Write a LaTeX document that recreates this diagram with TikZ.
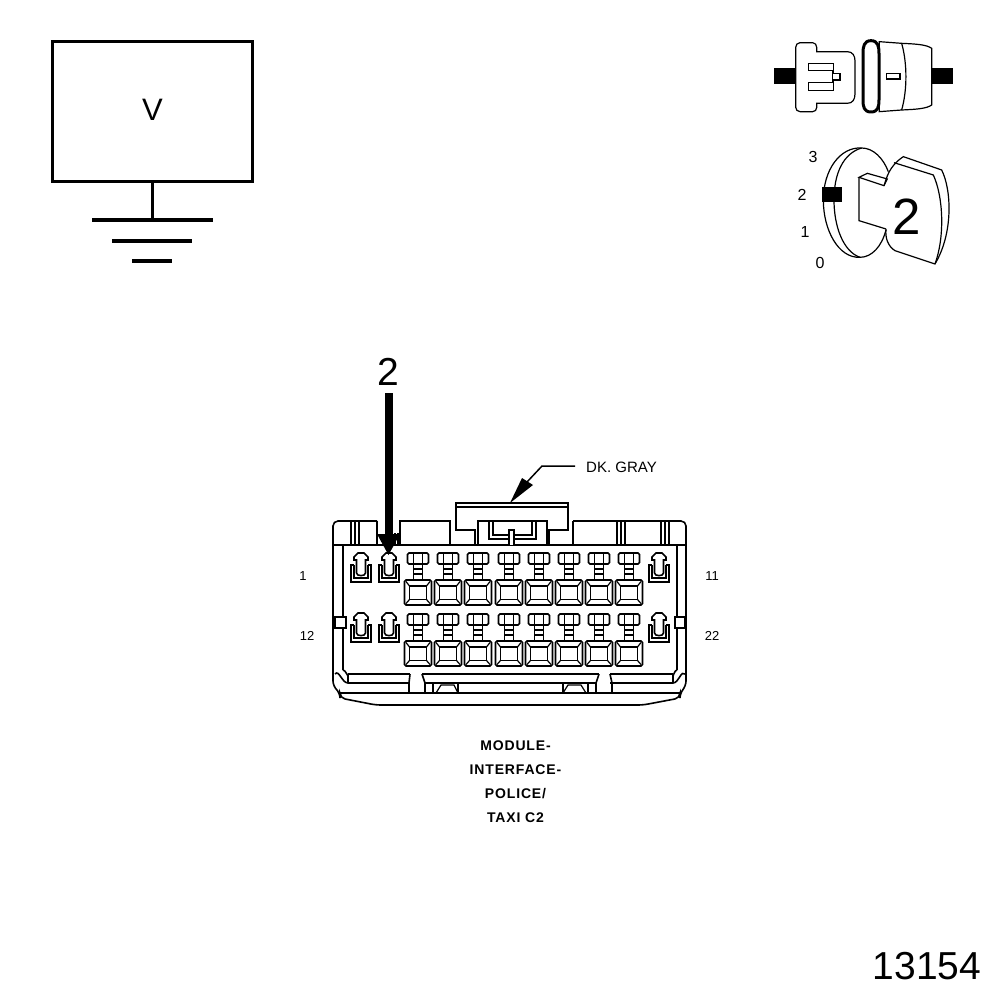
\documentclass[tikz,border=0pt]{standalone}
\usepackage{fontspec}
\setmainfont{Liberation Sans}
\newfontfamily\capfont[LetterSpace=6]{Liberation Sans}
\tikzset{
  conn/.style={draw=black,line width=1.6pt,line join=miter},
  thin line/.style={draw=black,line width=1.2pt},
  lab/.style={inner sep=0pt,text=black},
  smallterm/.pic={
    \draw[conn] (-4.5,20)--(-4.5,7)--(-7,7)--(-7,4)--(-3,0)--(3,0)--(7,4)--(7,7)--(4.5,7)--(4.5,20) to[out=-90,in=-90] (-4.5,20);
    \draw[conn] (-7,12)--(-10,12)--(-10,29)--(10,29)--(10,12)--(7,12);
    \draw[conn] (-7,12)--(-7,25)--(7,25)--(7,12);
  },
  bigterm/.pic={
    \draw[conn,rounded corners=1.5pt] (-4.5,11)--(-10.5,11)--(-10.5,0)--(10.5,0)--(10.5,11)--(4.5,11);
    \draw[conn] (-4.5,0)--(-4.5,27) (4.5,0)--(4.5,27);
    \draw[conn] (-4.5,11)--(4.5,11) (-4.5,16)--(4.5,16) (-4.5,21)--(4.5,21);
    \draw[conn,rounded corners=1.5pt] (-13.5,27) rectangle (13.5,52);
    \draw[conn] (-8.5,33) rectangle (8.5,46.5);
    \draw[thin line] (-12,28.5)--(-8.5,33) (12,28.5)--(8.5,33) (-12,50.5)--(-8.5,46.5) (12,50.5)--(8.5,46.5);
  }
}
\begin{document}
\begin{tikzpicture}[x=1pt,y=-1pt]
\useasboundingbox (0,0) rectangle (1008,1000);
\fill[white] (0,0) rectangle (1008,1000);
% voltmeter box and ground
\node[draw=black,line width=3.5pt,minimum width=200pt,minimum height=140pt,inner sep=0pt,outer sep=0pt,anchor=north west] (vbox) at (52.5,41.5) {};
\node[lab,font=\fontsize{31}{31}\selectfont] (vlabel) at (152.5,110) {V};
\coordinate (gnd) at (152.5,220);
\draw[line width=3.5pt] (vbox.south) -- (gnd);
\draw[line width=3.5pt] (92,220)--(213,220) (112,241)--(192,241) (132,261)--(172,261);
% connector icon
\begin{scope}[shift={(760,30)},x=0.3333pt,y=-0.3333pt]
  \fill (42,113) rectangle (107,163);
  \fill (515,113) rectangle (578,163);
  \draw[thin line,fill=white] (120,38)--(158,38) to[out=0,in=90] (170,52)--(170,65)--(262,65) .. controls (278,65) and (285,78) .. (285,92)--(285,192) .. controls (285,208) and (278,220) .. (262,220)--(170,220)--(170,233) to[out=-90,in=0] (158,245)--(120,245) to[out=180,in=-90] (107,232)--(107,52) to[out=90,in=180] cycle;
  \draw[thin line] (145,122)--(145,100)--(220,100)--(220,130)--(240,130)--(240,150)--(220,150)--(220,182)--(145,182)--(145,158)--(218,158)--(218,122)--cycle;
  \draw[thin line,fill=white] (358,35)--(425,40) .. controls (470,42) and (500,44) .. (515,55)--(515,225) .. controls (500,236) and (470,238) .. (425,240)--(358,245)--cycle;
  \draw[thin line] (425,40) .. controls (442,100) and (442,180) .. (425,240);
  \draw[thin line] (380,130) rectangle (420,147);
  \draw[draw=black,line width=3pt,fill=white] (333,32) .. controls (312,32) and (309,50) .. (309,70)--(309,210) .. controls (309,230) and (312,246) .. (333,246) .. controls (354,246) and (357,230) .. (357,210)--(357,70) .. controls (357,50) and (354,32) .. (333,32)--cycle;
\end{scope}
% key icon
\begin{scope}[shift={(760,30)},x=0.3333pt,y=-0.3333pt]
  \draw[thin line] (305,354) .. controls (240,350) and (190,420) .. (190,510) .. controls (190,600) and (235,685) .. (300,682);
  \draw[thin line] (305,354) .. controls (250,370) and (222,430) .. (222,510) .. controls (222,590) and (250,665) .. (300,682);
  \draw[thin line] (305,354) .. controls (340,354) and (370,385) .. (385,425);
  \draw[thin line] (300,682) .. controls (335,682) and (365,650) .. (378,600);
  \fill (187,470) rectangle (245,517);
  \draw[thin line] (297,442)--(297,572)--(378,597);
  \draw[thin line] (297,442)--(372,467)--(382,447)--(322,430)--cycle;
  \draw[thin line] (372,467) .. controls (380,445) and (385,410) .. (430,380)--(545,420) .. controls (575,480) and (580,610) .. (525,702)--(405,662) .. controls (385,650) and (375,625) .. (378,597);
  \draw[thin line] (402,398)--(520,435) .. controls (550,500) and (555,620) .. (525,702);
\end{scope}
\node[lab,font=\fontsize{51}{51}\selectfont] (keytwo) at (907,217) {2};
\node[lab,font=\fontsize{16}{16}\selectfont] (pos3) at (813,157) {3};
\node[lab,font=\fontsize{16}{16}\selectfont] (pos2) at (802,195) {2};
\node[lab,font=\fontsize{16}{16}\selectfont] (pos1) at (805,232) {1};
\node[lab,font=\fontsize{16}{16}\selectfont] (pos0) at (820,263) {0};
% connector body
\draw[conn,rounded corners=5pt] (377,521)--(333,521)--(333,686)--(340,693)--(340,698)--(376,705)--(643,705)--(680,698)--(680,693)--(686,686)--(686,521)--(573,521);
\draw[conn] (333,545)--(686,545);
\draw[conn] (343,545)--(343,670) (677,545)--(677,670);
\draw[conn] (377,521)--(377,545) (400,545)--(400,521)--(450,521)--(450,545) (573,521)--(573,545);
\draw[conn] (351,521)--(351,545) (355,521)--(355,545) (359,521)--(359,545);
\draw[conn] (617,521)--(617,545) (621,521)--(621,545) (625,521)--(625,545);
\draw[conn] (661,521)--(661,545) (665,521)--(665,545) (669,521)--(669,545);
\draw[conn] (395,533)--(395,545) (398,533)--(398,545);
% top tab
\draw[conn] (475,545)--(475,530)--(456,530)--(456,503)--(568,503)--(568,530)--(549,530)--(549,545);
\draw[thin line] (456,507)--(568,507);
\draw[conn] (478,545)--(478,521)--(547,521)--(547,545);
\draw[conn] (489,521)--(489,539)--(536,539)--(536,521) (493,521)--(493,535)--(532,535)--(532,521);
\draw[conn,fill=white] (509,545)--(509,530)--(514,530)--(514,545);
% side tabs
\draw[conn,fill=white] (335,617) rectangle (346,628);
\draw[conn,fill=white] (675,617) rectangle (685,628);
% lower ribs
\draw[conn] (343,670) to[out=0,in=-90] (348,675)--(348,683);
\draw[conn] (335,674) to[out=50,in=180] (348,683);
\draw[conn] (677,670) to[out=180,in=-90] (673,675)--(673,683);
\draw[conn] (685,674) to[out=130,in=0] (673,683);
\draw[conn] (348,674)--(410,674) (348,683)--(410,683);
\draw[conn] (422,674)--(599,674) (425,683)--(596,683);
\draw[conn] (610,674)--(673,674) (610,683)--(673,683);
\draw[conn] (340,693)--(680,693);
\draw[conn] (410,674)--(409,683)--(409,693) (422,674)--(425,683)--(425,693);
\draw[conn] (599,674)--(596,683)--(596,693) (610,674)--(612,683)--(612,693);
\draw[conn] (433,683)--(433,693) (458,683)--(458,693);
\draw[thin line] (436,693)--(441,685)--(454,685)--(458,693);
\draw[conn] (563,683)--(563,693) (588,683)--(588,693);
\draw[thin line] (563,693)--(568,685)--(581,685)--(586,693);
% terminals
\foreach \xx in {418,448,478,509,539,569,599,629} {
  \path (\xx,553) pic {bigterm};
  \path (\xx,614) pic {bigterm};
}
\foreach \xx in {361,389,659} {
  \path (\xx,553) pic {smallterm};
  \path (\xx,613) pic {smallterm};
}
% pin labels
\node[lab,font=\fontsize{13}{13}\selectfont] (pin1) at (303,576) {1};
\node[lab,font=\fontsize{13}{13}\selectfont] (pin11) at (712,576) {11};
\node[lab,font=\fontsize{13}{13}\selectfont] (pin12) at (307,636) {12};
\node[lab,font=\fontsize{13}{13}\selectfont] (pin22) at (712,636) {22};
% pointer arrow
\node[lab,font=\fontsize{39}{39}\selectfont] (ptwo) at (388.5,372) {2};
\coordinate (ptop) at (388.5,393);
\coordinate (ptip) at (388.5,555);
\fill (384.5,393) rectangle (392.5,536);
\fill (377,534)--(400,534)--(ptip)--cycle;
% colour callout
\node[lab,font=\fontsize{15}{15}\selectfont,anchor=west] (gray) at (586,467) {DK. GRAY};
\coordinate (lend) at (575,466);
\coordinate (bend) at (542,466);
\coordinate (ltip) at (510,503);
\draw[line width=1.5pt] (lend) -- (bend) -- (527,482);
\fill (ltip)--(522,478)--(533,485)--cycle;
% caption
\node[lab,font=\fontsize{14}{14}\selectfont\capfont\bfseries] (cap1) at (515.5,746) {MODULE-};
\node[lab,font=\fontsize{14}{14}\selectfont\capfont\bfseries] (cap2) at (515.5,770) {INTERFACE-};
\node[lab,font=\fontsize{14}{14}\selectfont\capfont\bfseries] (cap3) at (515.5,794) {POLICE/};
\node[lab,font=\fontsize{14}{14}\selectfont\capfont\bfseries] (cap4) at (515.5,818) {TAXI C2};
\node[lab,font=\fontsize{39}{39}\selectfont] (num) at (927,966) {13154};
\end{tikzpicture}
\end{document}
